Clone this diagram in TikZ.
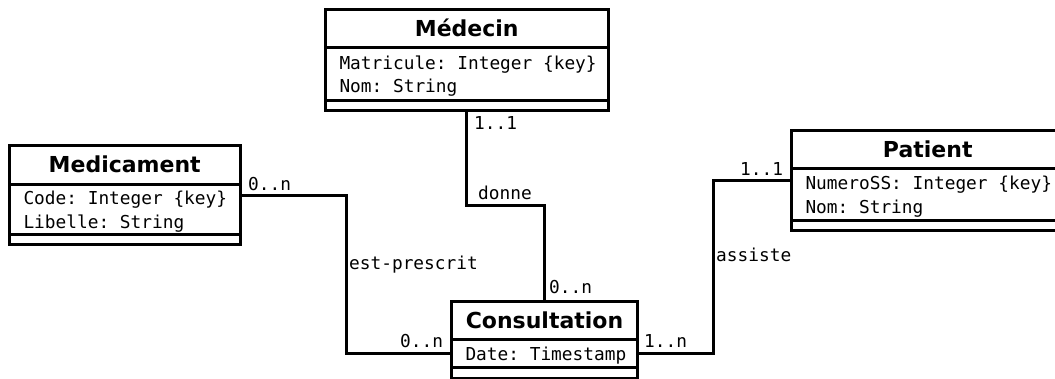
\documentclass[tikz,border=0pt]{standalone}
\usepackage{fontspec}
\setmainfont{DejaVu Sans}
\newfontfamily\umlmono{DejaVu Sans Mono}
\usetikzlibrary{positioning}

\tikzset{
  clsbase/.style={draw, line width=3pt, inner sep=0pt, outer sep=0pt, fill=white},
  clstitle/.style={clsbase, font=\fontsize{22}{26}\selectfont\bfseries},
  clsbox/.style={clsbase},
  clstext/.style={inner sep=0pt, outer sep=0pt, align=left, anchor=west,
    font=\umlmono\fontsize{17.8}{23.5}\selectfont\frenchspacing},
  link/.style={line width=3pt},
  lbl/.style={inner sep=0pt, anchor=base west, font=\umlmono\fontsize{17.8}{23.5}\selectfont},
}

% class box: name, left, top, width, title height, attribute height, ops height, title, attributes
\newcommand\umlclass[9]{%
  \node[clstitle, minimum width=#4, minimum height=#5, anchor=north west] (#1) at (#2,#3) {#8};
  \node[clsbox, minimum width=#4, minimum height=#6, below=0pt of #1] (#1-attr) {};
  \node[clstext] (#1-text) at ([xshift=14pt,yshift=-2.5pt]#1-attr.west) {#9};
  \node[clsbox, minimum width=#4, minimum height=#7, below=0pt of #1-attr] (#1-ops) {};
}

\begin{document}
\begin{tikzpicture}[x=1pt,y=-1pt]
\useasboundingbox (0,0) rectangle (1055,378);

\umlclass{medecin}{325.5}{9.5}{282.5}{37.5}{53}{10}{Médecin}{Matricule: Integer \{key\}\\Nom: String}
\umlclass{medic}{9.5}{145.5}{230.5}{38.5}{50}{10}{Medicament}{Code: Integer \{key\}\\Libelle: String}
\umlclass{patient}{791.5}{130.5}{272.5}{37.5}{52}{10}{Patient}{NumeroSS: Integer \{key\}\\Nom: String}
\umlclass{cons}{451.5}{301}{186}{38.5}{27.5}{11}{Consultation}{Date: Timestamp}

% associations
\draw[link] (medic-attr.north east) ++(0,11) -- ++(106,0) |- (cons-attr.west);
\draw[link] (medecin-ops.south) -- ++(0,95) -| (cons.north);
\draw[link] (patient-attr.north west) ++(0,12) -- ++(-78.5,0) |- (cons-attr.east);

% multiplicities and role names
\node[lbl] (m1) at (248,190) {0..n};
\node[lbl] (r1) at (349,269) {est-prescrit};
\node[lbl] (m2) at (400,347) {0..n};
\node[lbl] (m3) at (474,129) {1..1};
\node[lbl] (r2) at (478,199) {donne};
\node[lbl] (m4) at (549,293) {0..n};
\node[lbl] (m5) at (644,347) {1..n};
\node[lbl] (r3) at (716,261) {assiste};
\node[lbl] (m6) at (740,175) {1..1};
\end{tikzpicture}
\end{document}
